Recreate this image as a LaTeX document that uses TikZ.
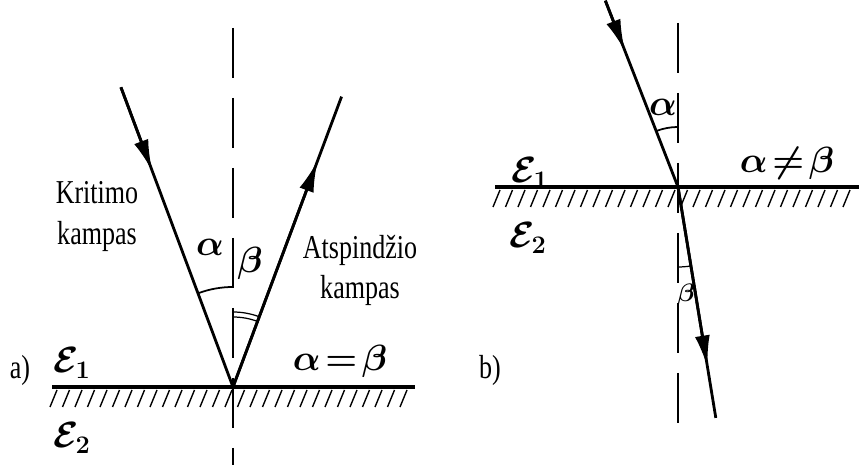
\documentclass[tikz,border=0pt]{standalone}
\usepackage{fontspec}
\setmainfont{Liberation Serif}
\usetikzlibrary{arrows.meta, calc}
\newcommand{\lbl}[1]{\scalebox{0.78}[1]{\fontsize{19}{22}\selectfont #1}}
\tikzset{
    ray/.style={line width=1.6pt},
    rayarrow/.style={line width=1.6pt, -{Latex[length=18pt,width=8.5pt]}},
    normline/.style={line width=0.8pt, dash pattern=on 1cm off 0.4cm},
    surface/.style={line width=2.4pt},
    hatch/.style={line width=0.8pt},
    anglearc/.style={line width=1pt},
    sym/.style={inner sep=0pt, font=\fontsize{22}{24}\selectfont\boldmath}
}

\begin{document}
\begin{tikzpicture}[x=0.02cm, y=0.02cm]
    \useasboundingbox (0,0) rectangle (859,465);

    % a) reflection
    \coordinate (Oa) at (233,78);
    \coordinate (Ia) at ($(Oa)+(110.5:320)$);
    \coordinate (Ra) at ($(Oa)+(69.5:310)$);
    \coordinate (mIa) at ($(Ia)!0.28!(Oa)$);
    \coordinate (mRa) at ($(Oa)!0.78!(Ra)$);
    \draw[normline] (233,437) -- (233,0);
    \foreach \x in {57,69.5,...,415}
        \draw[hatch] (\x,75) -- ++(-7,-17);
    \draw[surface] (52,78) -- (415,78);
    \draw[ray] (Ia) -- (Oa);
    \draw[rayarrow] (Ia) -- (mIa);
    \draw[ray] (Oa) -- (Ra);
    \draw[rayarrow] (Oa) -- (mRa);
    \draw[anglearc] (Oa) ++(90:100) arc (90:110.5:100);
    \draw[anglearc, line width=0.7pt] (Oa) ++(69.5:70) arc (69.5:90:70);
    \draw[anglearc, line width=0.7pt] (Oa) ++(69.5:75) arc (69.5:90:75);

    \node[sym] (alphaA) at (210,218) {$\alpha$};
    \node[sym] (betaA) at (250,202) {$\beta$};
    \node (kritimo) at (97,272) {\lbl{Kritimo}};
    \node (kampasA) at (97,229) {\lbl{kampas}};
    \node (atspind) at (360,215) {\lbl{Atspindžio}};
    \node (kampasB) at (360,175) {\lbl{kampas}};
    \node (labA) at (20,95) {\lbl{a)}};
    \node[sym] (epsA1) at (72,102) {$\mathcal{E}_1$};
    \node[sym] (epsA2) at (72,27) {$\mathcal{E}_2$};
    \node[sym] (eqA) at (340,104) {$\alpha\!=\!\beta$};

    % b) refraction
    \coordinate (Ob) at (678,278);
    \coordinate (Ib) at ($(Ob)+(111.3:200)$);
    \coordinate (Tb) at ($(Ob)+(-80.7:234)$);
    \coordinate (mIb) at ($(Ib)!0.27!(Ob)$);
    \coordinate (mTb) at ($(Ob)!0.78!(Tb)$);
    \draw[normline] (678,442) -- (678,33);
    \foreach \x in {500,512.5,...,855}
        \draw[hatch] (\x,275) -- ++(-7,-17);
    \draw[surface] (495,278) -- (859,278);
    \draw[ray] (Ib) -- (Ob);
    \draw[rayarrow] (Ib) -- (mIb);
    \draw[ray] (Ob) -- (Tb);
    \draw[rayarrow] (Ob) -- (mTb);
    \draw[anglearc] (Ob) ++(90:60) arc (90:111.3:60);
    \draw[anglearc, line width=0.7pt] (Ob) ++(-90:80) arc (-90:-80.7:80);

    \node[sym] (alphaB) at (663,358) {$\alpha$};
    \node[sym, font=\fontsize{15}{17}\selectfont\boldmath] (betaB) at (686,170) {$\beta$};
    \node[sym] (epsB1) at (530,292) {$\mathcal{E}_1$};
    \node[sym] (epsB2) at (528,227) {$\mathcal{E}_2$};
    \node[sym] (neqB) at (787,302) {$\alpha\!\neq\!\beta$};
    \node (labB) at (490,95) {\lbl{b)}};
\end{tikzpicture}
\end{document}
